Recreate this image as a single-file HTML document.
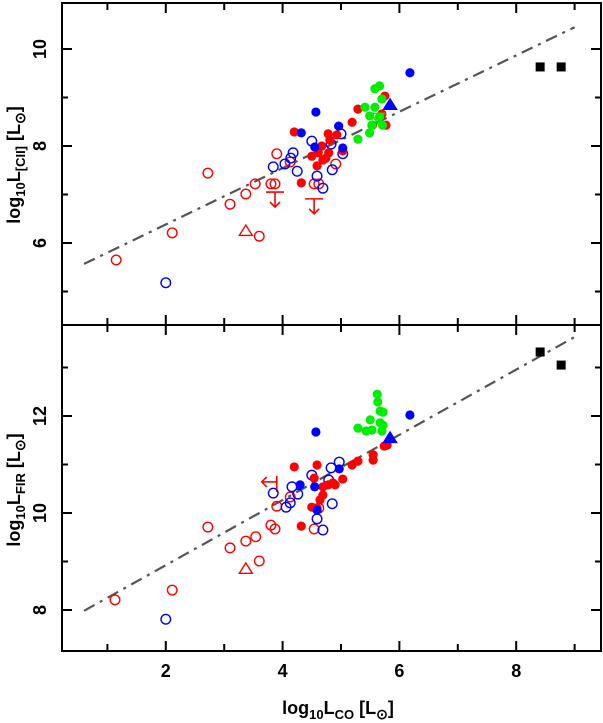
<!DOCTYPE html>
<html><head><meta charset="utf-8"><style>
html,body{margin:0;padding:0;background:#fff;}
svg{display:block;font-family:"Liberation Sans",sans-serif;}
</style></head><body>
<svg id="chart" width="603" height="723" viewBox="0 0 603 723" xmlns="http://www.w3.org/2000/svg">
<g id="top-panel"></g>
<g id="bot-panel"></g>
<g id="xticks"></g>
<text x="338" y="714" text-anchor="middle" font-size="18" font-weight="bold">log<tspan font-size="13" dy="5">10</tspan><tspan dy="-5">L</tspan><tspan font-size="13" dy="5">CO</tspan><tspan dy="-5"> [L</tspan><tspan font-size="14" dy="5">⊙</tspan><tspan dy="-5">]</tspan></text>
<text transform="translate(20,165) rotate(-90)" text-anchor="middle" font-size="18" font-weight="bold">log<tspan font-size="13" dy="5">10</tspan><tspan dy="-5">L</tspan><tspan font-size="13" dy="5">[CII]</tspan><tspan dy="-5"> [L</tspan><tspan font-size="14" dy="5">⊙</tspan><tspan dy="-5">]</tspan></text>
<text transform="translate(20,490) rotate(-90)" text-anchor="middle" font-size="18" font-weight="bold">log<tspan font-size="13" dy="5">10</tspan><tspan dy="-5">L</tspan><tspan font-size="13" dy="5">FIR</tspan><tspan dy="-5"> [L</tspan><tspan font-size="14" dy="5">⊙</tspan><tspan dy="-5">]</tspan></text>
</svg>
<script>
// ---- data: top panel (log L_CO, log L_[CII]) ----
const topRedOpen = [[1.15,5.65],[2.11,6.21],[2.72,7.44],[3.10,6.80],[3.37,7.01],[3.53,7.22],[3.60,6.14],[3.80,7.22],[3.87,7.22],[3.90,7.84],[4.13,7.67],[4.54,7.22],[4.62,7.22],[4.91,7.63]];
const topRedTri = [[3.37,6.25]];
const topUpperLimits = [[3.87,7.05],[4.54,6.91]];
const topBlueOpen = [[2.00,5.18],[4.18,7.86],[4.14,7.75],[3.84,7.57],[4.04,7.63],[4.25,7.48],[4.50,8.10],[4.83,8.04],[5.00,8.25],[5.03,7.84],[4.85,7.51],[4.59,7.38],[4.69,7.13]];
const topBlueFilled = [[4.57,8.70],[4.32,8.27],[4.96,8.41],[4.55,7.98],[5.03,7.96],[6.18,9.51]];
const topBlueTri = [[5.84,8.85]];
const topRedFilled = [[4.20,8.29],[4.32,7.24],[4.50,7.79],[4.67,8.00],[4.78,8.25],[4.93,8.23],[4.61,7.86],[4.74,7.75],[4.59,7.59],[4.79,7.86],[5.03,7.90],[5.19,8.49],[5.29,8.76],[5.75,9.03],[5.77,8.43],[5.70,8.66],[5.54,8.43],[4.69,7.71],[4.81,8.12]];
const topGreen = [[5.66,9.24],[5.58,9.18],[5.70,8.97],[5.41,8.80],[5.58,8.80],[5.49,8.62],[5.66,8.60],[5.53,8.43],[5.49,8.27],[5.29,8.14],[5.71,8.43]];
const topGreenTriDown = [[5.63,8.58]];
const topBlack = [[8.41,9.63],[8.77,9.63]];
const topFit = [0.581, 5.22];  // slope, intercept
// ---- data: bottom panel (log L_CO, log L_FIR) ----
const botRedOpen = [[1.13,8.21],[2.11,8.41],[2.72,9.71],[3.10,9.28],[3.37,9.42],[3.54,9.51],[3.60,9.01],[3.80,9.75],[3.87,9.67],[3.90,10.14],[4.13,10.33],[4.54,9.67],[4.62,10.10]];
const botRedTri = [[3.37,8.85]];
const botLeftLimits = [[3.90,10.60]];
const botBlueOpen = [[2.00,7.81],[3.84,10.41],[4.16,10.54],[4.26,10.39],[4.13,10.21],[4.06,10.12],[4.50,10.78],[4.83,10.93],[4.97,11.05],[4.79,10.68],[4.85,10.19],[4.59,9.88],[4.69,9.65]];
const botBlueFilled = [[4.57,11.67],[4.30,10.58],[4.55,10.54],[4.97,10.91],[6.18,12.02],[4.59,10.06]];
const botBlueTri = [[5.84,11.55]];
const botRedFilled = [[4.20,10.95],[4.59,10.99],[4.32,9.73],[4.54,10.72],[4.69,10.54],[4.78,10.58],[4.90,10.58],[5.03,10.70],[4.69,10.37],[4.64,10.27],[4.50,10.12],[4.59,10.10],[5.19,10.99],[5.29,11.07],[5.55,11.20],[5.55,11.09],[5.74,11.38],[5.79,11.40],[4.86,10.62]];
const botGreen = [[5.62,12.45],[5.63,12.29],[5.67,12.10],[5.72,12.08],[5.50,11.92],[5.67,11.86],[5.72,11.81],[5.29,11.75],[5.43,11.69],[5.53,11.71],[5.70,11.69]];
const botBlack = [[8.41,13.32],[8.77,13.05]];
const botFit = [0.672, 7.58];
const xTicks = [2,4,6,8];
const topYTicks = [6,8,10];
const botYTicks = [8,10,12];

const NS = "http://www.w3.org/2000/svg";
const L = 62, R = 601;
const X = v => 49 + 58.4 * v;
function mk(parent, tag, attrs) {
  const e = document.createElementNS(NS, tag);
  for (const k in attrs) e.setAttribute(k, attrs[k]);
  parent.appendChild(e); return e;
}
function panel(g, top, bottom, Y, yT, fit, name) {
  const f = mk(g, 'rect', {x: L, y: top, width: R - L, height: bottom - top, fill: 'none', stroke: '#000', 'stroke-width': 2});
  
  
  const vmin = Math.ceil(Math.min(Y.inv(bottom), Y.inv(top)));
  const vmax = Math.floor(Math.max(Y.inv(bottom), Y.inv(top)));
  for (let v = vmin; v <= vmax; v++) {
    const major = yT.includes(v); const len = major ? 10 : 6; const py = Y(v);
    mk(g, 'line', {x1: L, x2: L + len, y1: py, y2: py, stroke: '#000', 'stroke-width': 2});
    mk(g, 'line', {x1: R - len, x2: R, y1: py, y2: py, stroke: '#000', 'stroke-width': 2});
    if (major) {
      const t = mk(g, 'text', {transform: `translate(46,${py}) rotate(-90)`, 'text-anchor': 'middle', 'font-size': 18, 'font-weight': 'bold'});
      t.textContent = v;
      
      
    }
  }
  for (let v = 1; v <= 9; v++) {
    const major = xTicks.includes(v); const len = major ? 10 : 7; const px = X(v);
    mk(g, 'line', {x1: px, x2: px, y1: top, y2: top + len, stroke: '#000', 'stroke-width': 2});
    mk(g, 'line', {x1: px, x2: px, y1: bottom - len, y2: bottom, stroke: '#000', 'stroke-width': 2});
  }
  const x0 = 0.6, x1 = 9.0;
  const ln = mk(g, 'line', {x1: X(x0), y1: Y(fit[1] + fit[0] * x0), x2: X(x1), y2: Y(fit[1] + fit[0] * x1), stroke: '#555', 'stroke-width': 2.2, 'stroke-dasharray': '12 6 3 6'});
  
  
}
function circles(g, Y, data, color, filled, name) {
  data.forEach(d => {
    const c = mk(g, 'circle', {cx: X(d[0]), cy: Y(d[1]), r: filled ? 4.6 : 4.8, fill: filled ? color : 'none', stroke: color, 'stroke-width': filled ? 0 : 1.4});
    
    
  });
}
function tris(g, Y, data, color, filled, down, name) {
  data.forEach(d => {
    const px = X(d[0]), py = Y(d[1]); const s = 6.5;
    const pts = down ? `${px-s},${py-s*0.7} ${px+s},${py-s*0.7} ${px},${py+s*0.9}` : `${px-s},${py+s*0.7} ${px+s},${py+s*0.7} ${px},${py-s*0.9}`;
    const p = mk(g, 'polygon', {points: pts, fill: filled ? color : 'none', stroke: color, 'stroke-width': 1.4});
    
    
  });
}
function squares(g, Y, data, name) {
  data.forEach(d => {
    const s = mk(g, 'rect', {x: X(d[0]) - 4.5, y: Y(d[1]) - 4.5, width: 9, height: 9, fill: '#000'});
    
    
  });
}
function upper(g, Y, data, name) {
  data.forEach(d => {
    const px = X(d[0]), py = Y(d[1]);
    const gg = mk(g, 'g', {stroke: '#f00', 'stroke-width': 1.6, fill: 'none'});
    
    
    mk(gg, 'line', {x1: px - 9, x2: px + 9, y1: py, y2: py});
    mk(gg, 'line', {x1: px, x2: px, y1: py, y2: py + 15});
    mk(gg, 'polyline', {points: `${px-5},${py+10} ${px},${py+15} ${px+5},${py+10}`});
  });
}
function leftLim(g, Y, data, name) {
  data.forEach(d => {
    const px = X(d[0]), py = Y(d[1]);
    const gg = mk(g, 'g', {stroke: '#f00', 'stroke-width': 1.6, fill: 'none'});
    
    
    mk(gg, 'line', {x1: px, x2: px, y1: py - 8, y2: py + 8});
    mk(gg, 'line', {x1: px, x2: px - 15, y1: py - 2, y2: py - 2});
    mk(gg, 'polyline', {points: `${px-10},${py-7} ${px-15},${py-2} ${px-10},${py+3}`});
  });
}
const Yt = v => 146 - 48.5 * (v - 8); Yt.inv = p => 8 + (146 - p) / 48.5;
const gt = document.getElementById('top-panel');
panel(gt, 3, 325, Yt, topYTicks, topFit, 'top-panel');
circles(gt, Yt, topRedOpen, '#f00', false, 'red-open-point');
tris(gt, Yt, topRedTri, '#f00', false, false, 'red-open-triangle');
upper(gt, Yt, topUpperLimits, 'upper-limit');
circles(gt, Yt, topBlueOpen, '#00f', false, 'blue-open-point');
circles(gt, Yt, topRedFilled, '#f00', true, 'red-filled-point');
circles(gt, Yt, topBlueFilled, '#00f', true, 'blue-filled-point');
circles(gt, Yt, topGreen, '#0e0', true, 'green-point');
tris(gt, Yt, topGreenTriDown, '#0e0', false, true, 'green-open-triangle');
tris(gt, Yt, topBlueTri, '#00f', true, false, 'blue-triangle');
squares(gt, Yt, topBlack, 'black-square');
const Yb = v => 513 - 48.5 * (v - 10); Yb.inv = p => 10 + (513 - p) / 48.5;
const gb = document.getElementById('bot-panel');
panel(gb, 325, 651, Yb, botYTicks, botFit, 'bottom-panel');
circles(gb, Yb, botRedOpen, '#f00', false, 'red-open-point');
tris(gb, Yb, botRedTri, '#f00', false, false, 'red-open-triangle');
leftLim(gb, Yb, botLeftLimits, 'left-limit');
circles(gb, Yb, botBlueOpen, '#00f', false, 'blue-open-point');
circles(gb, Yb, botRedFilled, '#f00', true, 'red-filled-point');
circles(gb, Yb, botBlueFilled, '#00f', true, 'blue-filled-point');
circles(gb, Yb, botGreen, '#0e0', true, 'green-point');
tris(gb, Yb, botBlueTri, '#00f', true, false, 'blue-triangle');
squares(gb, Yb, botBlack, 'black-square');
const gx = document.getElementById('xticks');
xTicks.forEach(v => {
  const t = mk(gx, 'text', {x: X(v), y: 677, 'text-anchor': 'middle', 'font-size': 18, 'font-weight': 'bold'});
  t.textContent = v;
  
  
});
</script>
</body></html>
